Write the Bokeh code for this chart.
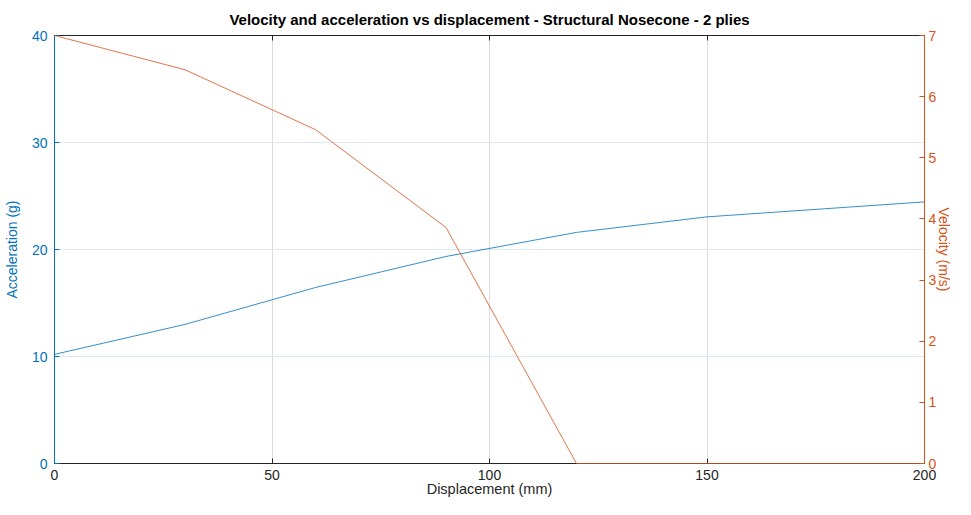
from bokeh.plotting import figure
from bokeh.models import LinearAxis, Range1d, FixedTicker
from bokeh.embed import file_html
from bokeh.resources import INLINE

# Data
displacement = [0, 30, 60, 90, 120, 150, 200]
acceleration = [10.2, 13.0, 16.45, 19.35, 21.6, 23.05, 24.45]
velocity = [7.0, 6.44, 5.46, 3.86, 0.0, 0.0, 0.0]

x_ticks = [0, 50, 100, 150, 200]
acc_ticks = [0, 10, 20, 30, 40]
vel_ticks = [0, 1, 2, 3, 4, 5, 6, 7]

title_text = "Velocity and acceleration vs displacement - Structural Nosecone - 2 plies"
x_label = "Displacement (mm)"
acc_label = "Acceleration (g)"
vel_label = "Velocity (m/s)"

BLUE = "#0072BD"
ORANGE = "#D95319"
DARK = "#262626"
FONT = "Liberation Sans"

p = figure(width=955, height=499, output_backend="svg", toolbar_location=None,
           x_range=Range1d(0, 200), y_range=Range1d(0, 40),
           min_border_left=46, min_border_right=0, min_border_top=0, min_border_bottom=0)
p.extra_y_ranges = {"vel": Range1d(0, 7)}

p.title.text = title_text
p.title.align = "center"
p.title.text_font = FONT
p.title.text_font_size = "15px"
p.title.text_font_style = "bold"
p.title.text_color = "#000000"
p.title.standoff = 16

p.outline_line_color = DARK
p.outline_line_width = 1
p.background_fill_color = "white"
p.border_fill_color = "white"

# Grid
p.xgrid.ticker = FixedTicker(ticks=x_ticks)
p.xgrid.grid_line_color = "#dcdcdc"
p.ygrid.ticker = FixedTicker(ticks=acc_ticks)
p.ygrid.grid_line_color = "#dbe9f4"

# Bottom axis
xa = p.xaxis[0]
xa.ticker = FixedTicker(ticks=x_ticks)
xa.axis_label = x_label
xa.axis_line_color = DARK
xa.major_tick_line_color = DARK
xa.major_tick_in = 5
xa.major_tick_out = 0
xa.minor_tick_line_color = None
xa.major_label_text_color = DARK
xa.axis_label_text_color = DARK
xa.major_label_text_font = FONT
xa.axis_label_text_font = FONT
xa.major_label_text_font_size = "14px"
xa.axis_label_text_font_size = "14.5px"
xa.axis_label_text_font_style = "normal"
xa.major_label_standoff = 6
xa.axis_label_standoff = -2

# Left axis
ya = p.yaxis[0]
ya.ticker = FixedTicker(ticks=acc_ticks)
ya.axis_label = acc_label
ya.axis_line_color = BLUE
ya.major_tick_line_color = BLUE
ya.major_tick_in = 5
ya.major_tick_out = 0
ya.minor_tick_line_color = None
ya.major_label_text_color = BLUE
ya.axis_label_text_color = BLUE
ya.major_label_text_font = FONT
ya.axis_label_text_font = FONT
ya.major_label_text_font_size = "14px"
ya.axis_label_text_font_size = "14px"
ya.axis_label_text_font_style = "normal"
ya.major_label_standoff = 7
ya.axis_label_standoff = 9

# Right axis
ra = LinearAxis(y_range_name="vel", ticker=FixedTicker(ticks=vel_ticks), axis_label=vel_label)
ra.axis_line_color = ORANGE
ra.major_tick_line_color = ORANGE
ra.major_tick_in = 5
ra.major_tick_out = 0
ra.minor_tick_line_color = None
ra.major_label_text_color = ORANGE
ra.axis_label_text_color = ORANGE
ra.major_label_text_font = FONT
ra.axis_label_text_font = FONT
ra.major_label_text_font_size = "14px"
ra.axis_label_text_font_size = "14px"
ra.axis_label_text_font_style = "normal"
ra.major_label_standoff = 4
ra.axis_label_standoff = -3
p.add_layout(ra, "right")

# Top axis (box with inward ticks, no labels)
ta = LinearAxis(ticker=FixedTicker(ticks=x_ticks))
ta.axis_line_color = DARK
ta.major_tick_line_color = DARK
ta.major_tick_in = 5
ta.major_tick_out = 0
ta.minor_tick_line_color = None
ta.major_label_text_font_size = "0px"
ta.major_label_standoff = 0
ta.major_label_text_alpha = 0
p.add_layout(ta, "above")

# Data lines
p.line(displacement, acceleration, line_color=BLUE, line_width=0.8)
p.line(displacement, velocity, line_color=ORANGE, line_width=0.8, y_range_name="vel",
       level="overlay")

open("out.html", "w").write(file_html(p, INLINE))
